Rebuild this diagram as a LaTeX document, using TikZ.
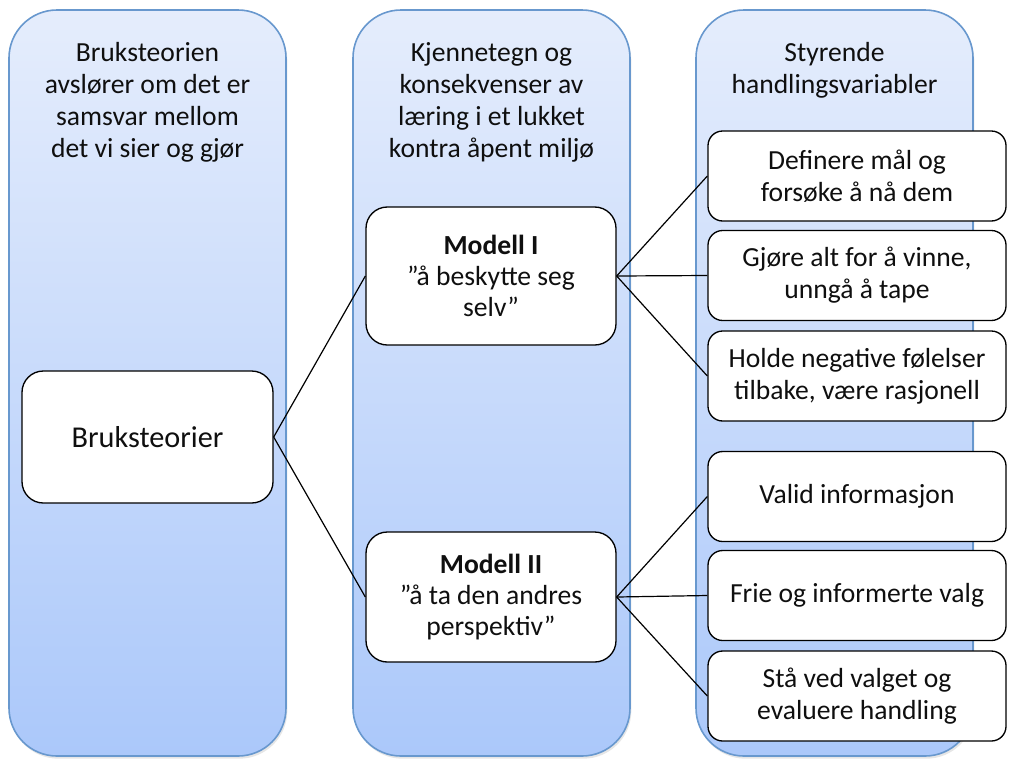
\documentclass[tikz,border=0pt]{standalone}
\usepackage{fontspec}
\setmainfont{Carlito}
\usetikzlibrary{positioning}
\usetikzlibrary{shadows}

\definecolor{coltop}{RGB}{229,237,252}
\definecolor{colbottom}{RGB}{171,200,250}
\definecolor{colborder}{RGB}{104,152,206}
\definecolor{txtgrey}{RGB}{15,15,15}

\begin{document}
\begin{tikzpicture}[x=0.75pt, y=-0.75pt,
		column/.style={draw=colborder, line width=1.2pt, rounded corners=36pt,
			top color=coltop, bottom color=colbottom,
			drop shadow={opacity=0.2, shadow xshift=1pt, shadow yshift=-2pt}},
		header/.style={align=center, text=txtgrey, font=\fontsize{20.7}{24}\selectfont},
		innerbox/.style={draw, fill=white, line width=1pt, rounded corners=16pt,
			align=center, inner sep=0pt, text=txtgrey,
			minimum width=187.5pt, font=\fontsize{20.7}{23.5}\selectfont},
		varbox/.style={draw, fill=white, line width=1pt, rounded corners=11pt,
			minimum width=223.5pt, minimum height=67.5pt, align=center,
			inner sep=0pt, text=txtgrey, font=\fontsize{20.7}{24}\selectfont},
		link/.style={black, line width=0.9pt}]
		\useasboundingbox (0,0) rectangle (1009,758);
		% the three columns
		\foreach \x in {9,353,696}
		{
			\draw[column] (\x,10) rectangle ++(277,746);
		}
		\node[header] (hdrA) at (147.5,102) {Bruksteorien\\avslører om det er\\samsvar mellom\\det vi sier og gjør};
		\node[header] (hdrB) at (491.5,102) {Kjennetegn og\\konsekvenser av\\læring i et lukket\\kontra åpent miljø};
		\node[header] (hdrC) at (834.5,70) {Styrende\\handlingsvariabler};
		% boxes
		\node[innerbox, minimum width=188.25pt, minimum height=99pt,
			font=\fontsize{22.7}{26}\selectfont] (bruk) at (147.5,437) {Bruksteorier};
		\node[innerbox, minimum height=103.5pt] (modA) at (491,276) {\textbf{Modell I}\\”å beskytte seg\\selv”};
		\node[innerbox, minimum height=97.5pt] (modB) at (491,597) {\textbf{Modell II}\\”å ta den andres\\perspektiv”};
		\foreach \name/\y/\txt in {defm/176/{Definere mål og\\forsøke å nå dem},
			vinn/275.5/{Gjøre alt for å vinne,\\unngå å tape},
			hold/376/{Holde negative følelser\\tilbake, være rasjonell},
			valid/496.5/{Valid informasjon},
			frie/595.5/{Frie og informerte valg},
			staa/696/{Stå ved valget og\\evaluere handling}}
		{
			\node[varbox] (\name) at (857,\y) {\txt};
		}
		% connectors
		\draw[link] (bruk.east) -- (modA.west);
		\draw[link] (bruk.east) -- (modB.west);
		\foreach \v in {defm,vinn,hold}
		{
			\draw[link] (modA.east) -- (\v.west);
		}
		\foreach \v in {valid,frie,staa}
		{
			\draw[link] (modB.east) -- (\v.west);
		}
	\end{tikzpicture}
\end{document}
